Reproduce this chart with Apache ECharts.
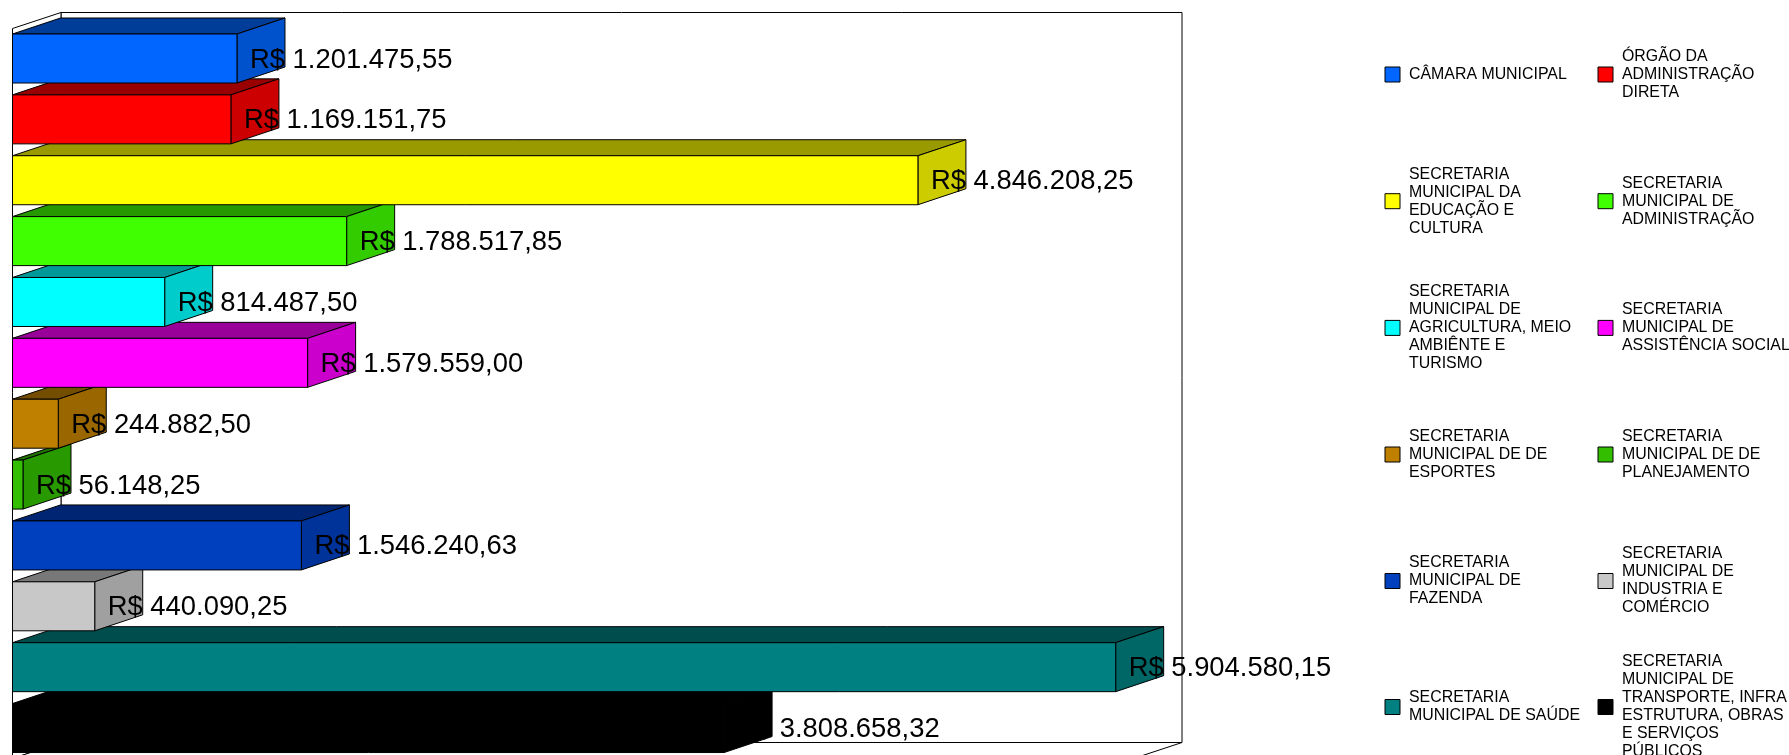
<!DOCTYPE html>
<html>
<head>
<meta charset="utf-8">
<style>html,body{margin:0;padding:0;background:#fff;overflow:hidden}#c{width:1789px;height:755px}</style>
<script src="https://cdn.jsdelivr.net/npm/echarts@6/dist/echarts.min.js"></script>
</head>
<body>
<div id="c"></div>
<script>
const categories = ['CÂMARA MUNICIPAL','ÓRGÃO DA ADMINISTRAÇÃO DIRETA','SECRETARIA MUNICIPAL DA EDUCAÇÃO E CULTURA','SECRETARIA MUNICIPAL DE ADMINISTRAÇÃO','SECRETARIA MUNICIPAL DE AGRICULTURA, MEIO AMBIÊNTE E TURISMO','SECRETARIA MUNICIPAL DE ASSISTÊNCIA SOCIAL','SECRETARIA MUNICIPAL DE DE ESPORTES','SECRETARIA MUNICIPAL DE DE PLANEJAMENTO','SECRETARIA MUNICIPAL DE FAZENDA','SECRETARIA MUNICIPAL DE INDUSTRIA E COMÉRCIO','SECRETARIA MUNICIPAL DE SAÚDE','SECRETARIA MUNICIPAL DE TRANSPORTE, INFRA ESTRUTURA, OBRAS E SERVIÇOS PÚBLICOS'];
const legendLines = [
 ['CÂMARA MUNICIPAL'],
 ['ÓRGÃO DA','ADMINISTRAÇÃO','DIRETA'],
 ['SECRETARIA','MUNICIPAL DA','EDUCAÇÃO E','CULTURA'],
 ['SECRETARIA','MUNICIPAL DE','ADMINISTRAÇÃO'],
 ['SECRETARIA','MUNICIPAL DE','AGRICULTURA, MEIO','AMBIÊNTE E','TURISMO'],
 ['SECRETARIA','MUNICIPAL DE','ASSISTÊNCIA SOCIAL'],
 ['SECRETARIA','MUNICIPAL DE DE','ESPORTES'],
 ['SECRETARIA','MUNICIPAL DE DE','PLANEJAMENTO'],
 ['SECRETARIA','MUNICIPAL DE','FAZENDA'],
 ['SECRETARIA','MUNICIPAL DE','INDUSTRIA E','COMÉRCIO'],
 ['SECRETARIA','MUNICIPAL DE SAÚDE'],
 ['SECRETARIA','MUNICIPAL DE','TRANSPORTE, INFRA','ESTRUTURA, OBRAS','E SERVIÇOS','PÚBLICOS']
];
const values = [1201475.55,1169151.75,4846208.25,1788517.85,814487.50,1579559.00,244882.50,56148.25,1546240.63,440090.25,5904580.15,3808658.32];
const valueLabels = ['R$ 1.201.475,55','R$ 1.169.151,75','R$ 4.846.208,25','R$ 1.788.517,85','R$ 814.487,50','R$ 1.579.559,00','R$ 244.882,50','R$ 56.148,25','R$ 1.546.240,63','R$ 440.090,25','R$ 5.904.580,15','R$ 3.808.658,32'];
const colors = ['#0066ff','#ff0000','#ffff00','#40ff00','#00ffff','#ff00ff','#bf8000','#33bf00','#0040bf','#c8c8c8','#008080','#000000'];

const DX = 48, DY = 16, BAR_RATIO = 0.805;
function shade(hex, k){
  const n = parseInt(hex.slice(1),16);
  const c = [(n>>16)&255,(n>>8)&255,n&255].map(v=>Math.round(v*k));
  return `rgb(${c.join(',')})`;
}
const stroke = {stroke:'#000',lineWidth:1};
function renderBar(color){
  return function(params, api){
    const base = api.coord([0, api.value(1)]);
    const end = api.coord([api.value(0), api.value(1)]);
    const h = api.size([0,1])[1]*BAR_RATIO;
    const x0 = base[0], x1 = end[0], y0 = base[1]-h/2, y1 = base[1]+h/2;
    return {type:'group',children:[
      {type:'polygon',shape:{points:[[x0,y0],[x1,y0],[x1+DX,y0-DY],[x0+DX,y0-DY]]},style:{fill:shade(color,.6),...stroke}},
      {type:'polygon',shape:{points:[[x1,y0],[x1+DX,y0-DY],[x1+DX,y1-DY],[x1,y1]]},style:{fill:shade(color,.8),...stroke}},
      {type:'rect',shape:{x:x0,y:y0,width:x1-x0,height:y1-y0},style:{fill:color,...stroke}}
    ]};
  };
}
function renderFrame(params, api){
  const g = params.coordSys, L = g.x, T = 28.5, R = g.x+g.width, B = 758.5;
  return {type:'group',silent:true,children:[
    {type:'polygon',shape:{points:[[L+DX+.5,T-DY],[R+DX+.5,T-DY],[R+DX+.5,B-DY],[L+DX+.5,B-DY]]},style:{fill:'#fff',...stroke}},
    {type:'polygon',shape:{points:[[L,T],[L+DX+.5,T-DY],[L+DX+.5,B-DY],[L,B]]},style:{fill:'#fff',...stroke}},
    {type:'polygon',shape:{points:[[L,B],[L+DX+.5,B-DY],[R+DX+.5,B-DY],[R,B]]},style:{fill:'#fff',...stroke}}
  ]};
}
const series = [{type:'custom',name:'frame',z:1,clip:false,silent:true,data:[[0,categories[0]]],encode:{x:0,y:1},renderItem:renderFrame}];
for(let i=categories.length-1;i>=0;i--){
  series.push({type:'custom',name:categories[i],z:30-i,clip:false,silent:true,
    data:[[values[i],categories[i]]],encode:{x:0,y:1},itemStyle:{color:colors[i]},renderItem:renderBar(colors[i])});
}
series.push({type:'custom',name:'rotulos',z:60,clip:false,silent:true,
  data:values.map((v,i)=>[v,categories[i],valueLabels[i]]),encode:{x:0,y:1},
  renderItem:function(params,api){
    const p = api.coord([api.value(0),api.value(1)]);
    return {type:'text',x:p[0]+13,y:p[1]+1.5,style:{text:valueLabels[params.dataIndex],fill:'#000',font:'27.4px "Liberation Sans", Arial, sans-serif',textAlign:'left',textVerticalAlign:'middle'}};
  }});
const LINE = 18, colX = [1384.5,1597.5], rowY = [73,199.7,326.4,453,579.5,705.5];
const legends = categories.map((c,i)=>{
  const lines = legendLines[i], cy = rowY[Math.floor(i/2)];
  return {show:true,orient:'vertical',left:colX[i%2],top:cy-lines.length*LINE/2,padding:0,
    itemWidth:15,itemHeight:15,selectedMode:false,icon:'rect',
    data:[{name:c,itemStyle:{color:colors[i],borderColor:'#000',borderWidth:1}}],
    formatter:()=>lines.join('\n'),
    textStyle:{fontFamily:'"Liberation Sans", Arial, sans-serif',fontSize:15.9,lineHeight:LINE,color:'#000',padding:[3,0,0,4]}};
});
const chart = echarts.init(document.getElementById('c'),null,{renderer:'canvas',width:1789,height:755});
chart.setOption({
  animation:false,backgroundColor:'#fff',
  legend:legends,
  grid:{left:12.5,top:28.07,width:1121,height:730.4,outerBoundsMode:'none'},
  xAxis:{type:'value',min:0,max:6000000,show:false},
  yAxis:{type:'category',data:categories,inverse:true,show:false},
  series
});
</script>
</body>
</html>
